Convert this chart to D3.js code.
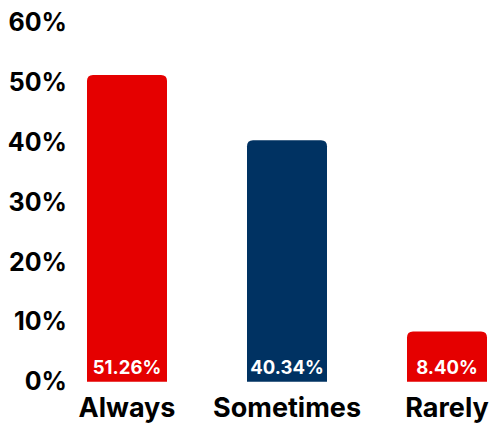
<!DOCTYPE html>
<html>
<head>
<meta charset="utf-8">
<script src="https://cdn.jsdelivr.net/npm/d3@7"></script>
<style>
  html, body { margin: 0; padding: 0; background: #ffffff; }
  svg { display: block; }
  text { font-family: Inter, "Open Sans", sans-serif; font-weight: 700; }
</style>
</head>
<body>
<svg id="chart" width="490" height="423"></svg>
<script>
// Share of responses per frequency
const categories = ["Always", "Sometimes", "Rarely"];
const shares = [51.26, 40.34, 8.40];
const barColors = ["#e50000", "#003262", "#e50000"];
const yTicks = [0, 10, 20, 30, 40, 50, 60];

const svg = d3.select("#chart");

const x = d3.scaleBand()
  .domain(categories)
  .range([87, 487])
  .paddingInner(0.5)
  .paddingOuter(0);

const y = d3.scaleLinear()
  .domain([0, 60])
  .range([381.7, 22.7]);

// Bar with rounded top corners only
function barPath(x0, w, yTop, yBase, r) {
  const rr = Math.min(r, (yBase - yTop) / 2, w / 2);
  return `M${x0},${yBase}` +
    `V${yTop + rr}` +
    `Q${x0},${yTop} ${x0 + rr},${yTop}` +
    `H${x0 + w - rr}` +
    `Q${x0 + w},${yTop} ${x0 + w},${yTop + rr}` +
    `V${yBase}Z`;
}

// Y axis tick labels (no line, no tick marks)
const yAxis = d3.axisLeft(y)
  .tickValues(yTicks)
  .tickFormat(d => d + "%")
  .tickSize(0)
  .tickPadding(0);

const gy = svg.append("g")
  .attr("transform", "translate(67,0)")
  .call(yAxis);
gy.select(".domain").remove();
gy.selectAll("text")
  .attr("fill", "#000")
  .style("font-size", "25px")
  .style("font-family", "Inter, sans-serif")
  .style("font-weight", "700");

// Bars
svg.append("g")
  .selectAll("path")
  .data(categories)
  .join("path")
  .attr("d", (c, i) => barPath(x(c), x.bandwidth(), y(shares[i]), y(0), 6))
  .attr("fill", (c, i) => barColors[i]);

// Value labels inside bars
svg.append("g")
  .selectAll("text")
  .data(categories)
  .join("text")
  .attr("x", c => x(c) + x.bandwidth() / 2)
  .attr("y", y(0) - 7.5)
  .attr("text-anchor", "middle")
  .attr("fill", "#ffffff")
  .style("font-size", "18.5px")
  .text((c, i) => shares[i].toFixed(2) + "%");

// Category axis labels
const xAxis = d3.axisBottom(x).tickSize(0).tickPadding(0);
const gx = svg.append("g")
  .attr("transform", `translate(0,${y(0)})`)
  .call(xAxis);
gx.select(".domain").remove();
gx.selectAll("text")
  .attr("fill", "#000")
  .attr("dy", null)
  .attr("y", 35)
  .style("font-size", "27px")
  .style("font-family", "Inter, sans-serif")
  .style("font-weight", "700");
</script>
</body>
</html>
